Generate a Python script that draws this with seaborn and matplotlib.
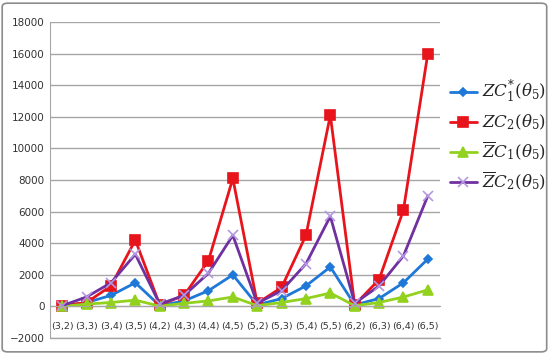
import matplotlib
matplotlib.use("Agg")
import matplotlib.pyplot as plt
import seaborn as sns
from matplotlib.patches import FancyBboxPatch

sns.set_style("white")
plt.rcParams['font.family'] = ['DejaVu Sans']
plt.rcParams['mathtext.fontset'] = 'dejavuserif'

# Data
categories = ["(3,2)", "(3,3)", "(3,4)", "(3,5)", "(4,2)", "(4,3)", "(4,4)", "(4,5)",
              "(5,2)", "(5,3)", "(5,4)", "(5,5)", "(6,2)", "(6,3)", "(6,4)", "(6,5)"]
zc1_star = [10, 250, 700, 1500, 50, 350, 1000, 2000, 100, 500, 1300, 2500, 100, 500, 1500, 3000]
zc2 = [50, 250, 1300, 4200, 100, 700, 2900, 8100, 200, 1200, 4500, 12100, 100, 1700, 6100, 16000]
zc1_bar = [5, 150, 250, 400, 20, 200, 350, 600, 50, 250, 500, 850, 50, 250, 600, 1050]
zc2_bar = [50, 600, 1500, 3300, 150, 700, 2100, 4500, 200, 1000, 2700, 5700, 200, 1300, 3200, 7000]

labels = [r'$ZC_1^{*}(\theta_5)$', r'$ZC_2(\theta_5)$',
          r'$\overline{Z}C_1(\theta_5)$', r'$\overline{Z}C_2(\theta_5)$']

x = list(range(len(categories)))

fig = plt.figure(figsize=(5.5, 3.54), dpi=100)
ax = fig.add_axes([0.091, 0.045, 0.709, 0.893])

series = [
    (zc1_star, "#1f78d8", "D", 4.5, "#1f78d8"),
    (zc2, "#e8141c", "s", 7, "#e8141c"),
    (zc1_bar, "#92d21e", "^", 7, "#92d21e"),
    (zc2_bar, "#7030a0", "x", 7, "#b497e0"),
]
for (vals, col, mk, ms, mcol), lab in zip(series, labels):
    sns.lineplot(x=x, y=vals, ax=ax, color=col, linewidth=2, marker=mk,
                 markersize=ms, markerfacecolor=mcol, markeredgecolor=mcol,
                 markeredgewidth=1.2, label=lab)

ax.set_xlim(-0.5, 15.5)
ax.set_ylim(-2000, 18000)
ax.set_yticks(range(-2000, 18001, 2000))
ax.tick_params(axis='y', labelsize=7.5, length=0, pad=4, colors="#333333")
ax.yaxis.grid(True, color="#a6a6a6", linewidth=1)
ax.axhline(-2000, color="#a6a6a6", linewidth=1, clip_on=False, zorder=0)

ax.set_xticks(x)
ax.set_xticklabels(categories)
ax.set_xticks([i - 0.5 for i in range(len(categories) + 1)], minor=True)
ax.tick_params(axis='x', which='major', length=0, labelsize=6.8, pad=11, colors="#333333")
ax.tick_params(axis='x', which='minor', length=4, color="#a6a6a6", direction='out')

for s in ["top", "right"]:
    ax.spines[s].set_visible(False)
ax.spines["bottom"].set_position(("data", 0))
ax.spines["bottom"].set_color("#a6a6a6")
ax.spines["left"].set_color("#a6a6a6")

leg = ax.legend(loc="upper left", bbox_to_anchor=(1.0, 0.85), frameon=False,
                fontsize=12, handlelength=1.6, labelspacing=0.45,
                handletextpad=0.3, borderaxespad=0.2)

fig.patches.append(FancyBboxPatch((0.004, 0.006), 0.99, 0.985,
                                  boxstyle="round,pad=0,rounding_size=0.01",
                                  transform=fig.transFigure, fill=False,
                                  edgecolor="#8c8c8c", linewidth=1.2))

fig.savefig("out.png", dpi=100)
